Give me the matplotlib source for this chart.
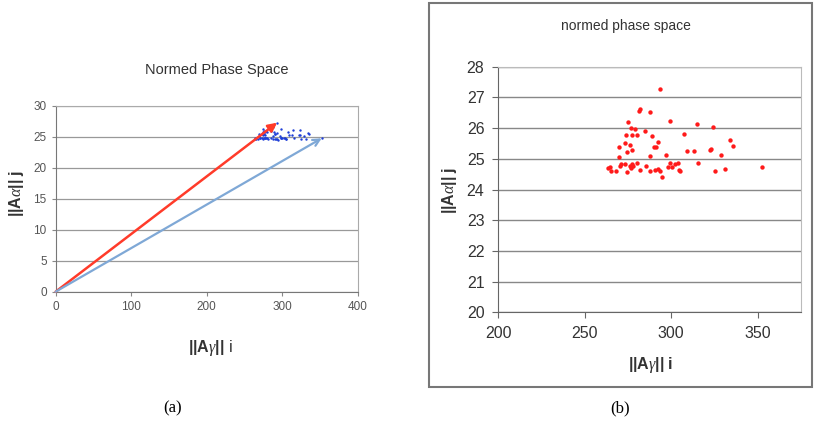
import numpy as np
import matplotlib
matplotlib.use("Agg")
import matplotlib.pyplot as plt
from matplotlib.patches import Rectangle

plt.rcParams["font.family"] = ["Liberation Sans", "DejaVu Sans"]
plt.rcParams["mathtext.fontset"] = "custom"
plt.rcParams["mathtext.rm"] = "Liberation Sans"
plt.rcParams["mathtext.bf"] = "Liberation Sans:bold"
plt.rcParams["mathtext.it"] = "Liberation Serif:italic"

# ||A gamma|| i  and  ||A alpha|| j for each sample
gamma_norm = [293.3, 281.2, 282.1, 287.9, 299.0, 314.8, 324.0, 275.2, 276.5, 279.0,
              274.0, 277.3, 280.4, 284.6, 288.8, 307.3, 273.5, 276.0, 269.8, 277.3,
              274.6, 290.0, 291.0, 292.5, 309.2, 313.1, 322.5, 323.1, 334.2, 335.6,
              328.5, 297.1, 287.9, 269.6, 264.4, 263.5, 265.0, 268.3, 270.2, 271.2,
              273.5, 274.4, 276.0, 276.9, 277.3, 277.9, 280.4, 281.7, 285.2, 287.9,
              290.4, 292.3, 293.3, 294.4, 298.1, 299.0, 300.4, 302.3, 303.8, 304.4,
              305.2, 315.4, 325.2, 331.3, 352.3]
alpha_norm = [27.26, 26.57, 26.63, 26.52, 26.23, 26.12, 26.05, 26.20, 25.99, 25.97,
              25.77, 25.77, 25.77, 25.89, 25.73, 25.81, 25.51, 25.46, 25.37, 25.30,
              25.23, 25.39, 25.39, 25.55, 25.27, 25.27, 25.29, 25.32, 25.61, 25.43,
              25.12, 25.14, 25.10, 25.05, 24.72, 24.69, 24.61, 24.59, 24.78, 24.82,
              24.83, 24.58, 24.78, 24.71, 24.83, 24.78, 24.85, 24.62, 24.78, 24.61,
              24.63, 24.66, 24.61, 24.41, 24.74, 24.85, 24.74, 24.83, 24.85, 24.63,
              24.61, 24.85, 24.60, 24.67, 24.74]

left_xticks = [0, 100, 200, 300, 400]
left_yticks = [0, 5, 10, 15, 20, 25, 30]
right_xticks = [200, 250, 300, 350]
right_yticks = [20, 21, 22, 23, 24, 25, 26, 27, 28]

g = np.array(gamma_norm)
a = np.array(alpha_norm)
i_top = int(np.argmax(a))   # red arrow: largest alpha norm
i_far = int(np.argmax(g))   # blue arrow: largest gamma norm

xlab_a = r"$\mathbf{||A}\mathit{\gamma}\mathbf{||}$ i"
xlab_b = r"$\mathbf{||A}\mathit{\gamma}\mathbf{||\ i}$"
ylab = r"$\mathbf{||A}\mathit{\alpha}\mathbf{||\ j}$"

fig = plt.figure(figsize=(8.15, 4.26), dpi=100)

# ---- (a) left panel
ax1 = fig.add_axes([0.0683, 0.3153, 0.3706, 0.4366])
ax1.scatter(g, a, s=3, color="#1f3fd8", zorder=3, linewidths=0)
ax1.annotate("", xy=(g[i_top], a[i_top]), xytext=(0, 0),
             arrowprops=dict(arrowstyle="-|>", color="#ff3b2a", lw=1.8,
                             mutation_scale=13, shrinkA=0, shrinkB=0), zorder=4)
ax1.annotate("", xy=(g[i_far], a[i_far]), xytext=(0, 0),
             arrowprops=dict(arrowstyle="->", color="#7fa8d6", lw=1.6,
                             mutation_scale=12, shrinkA=0, shrinkB=0), zorder=4)
ax1.set_xlim(0, 400)
ax1.set_ylim(0, 30)
ax1.set_xticks(left_xticks)
ax1.set_yticks(left_yticks)
ax1.grid(axis="y", color="#999999", lw=0.9)
ax1.set_axisbelow(True)
ax1.tick_params(labelsize=8.5, labelcolor="#555555", color="#888888", length=3,
                direction="out")
for side in ["top", "right"]:
    ax1.spines[side].set_color("#aaaaaa")
for side in ["left", "bottom"]:
    ax1.spines[side].set_color("#777777")

fig.text(0.266, 0.836, "Normed Phase Space", ha="center", va="center",
         fontsize=10.5, color="#333333")
fig.text(0.258, 0.183, xlab_a, ha="center", va="center", fontsize=11.5,
         color="#333333")
fig.text(0.02, 0.547, ylab, ha="center", va="center", fontsize=11.5,
         rotation=90, color="#333333")

# ---- (b) right panel
fig.add_artist(Rectangle((0.526, 0.0915), 0.470, 0.9015, transform=fig.transFigure,
                         fill=False, edgecolor="#777777", lw=1.5))
ax2 = fig.add_axes([0.6114, 0.2669, 0.3714, 0.5765])
ax2.scatter(g, a, s=10, color="#ff1a1a", zorder=3, linewidths=0)
ax2.set_xlim(200, 375)
ax2.set_ylim(20, 28)
ax2.set_xticks(right_xticks)
ax2.set_yticks(right_yticks)
ax2.grid(axis="y", color="#888888", lw=1.0)
ax2.set_axisbelow(True)
ax2.tick_params(labelsize=11.5, labelcolor="#333333", color="#666666", length=4,
                direction="out", pad=6)
for side in ["top", "right"]:
    ax2.spines[side].set_color("#bbbbbb")
for side in ["left", "bottom"]:
    ax2.spines[side].set_color("#666666")

fig.text(0.768, 0.939, "normed phase space", ha="center", va="center",
         fontsize=10, color="#333333")
fig.text(0.798, 0.143, xlab_b, ha="center", va="center", fontsize=11.5,
         color="#333333")
fig.text(0.552, 0.554, ylab, ha="center", va="center", fontsize=11.5,
         rotation=90, color="#333333")

fig.text(0.212, 0.042, "(a)", ha="center", va="center", fontsize=12,
         family=["Liberation Serif", "DejaVu Serif"])
fig.text(0.761, 0.042, "(b)", ha="center", va="center", fontsize=12,
         family=["Liberation Serif", "DejaVu Serif"])

fig.savefig("out.png", dpi=100)
